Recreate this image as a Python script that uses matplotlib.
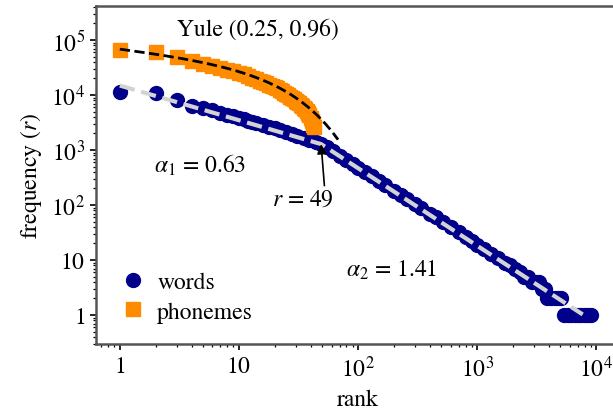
import numpy as np
import matplotlib
matplotlib.use("Agg")
import matplotlib.pyplot as plt
from matplotlib.ticker import FixedLocator, FixedFormatter, LogLocator, NullFormatter

plt.rcParams["font.family"] = "STIXGeneral"
plt.rcParams["mathtext.fontset"] = "stix"
plt.rcParams["font.size"] = 17

# word rank-frequency counts
word_ranks = [1, 2, 3, 4, 5, 6, 7, 8, 9, 10, 11, 12, 13, 14, 16, 18, 20, 22, 25,
              28, 31, 35, 39, 44, 49, 55, 62, 70, 80, 90, 100, 115, 130, 150,
              170, 200, 230, 260, 300, 340, 400, 450, 520, 600, 700, 800, 900,
              1000, 1150, 1300, 1500, 1700, 1900, 2100, 2300, 2500, 2700, 2900,
              3100, 3300, 3500, 3700, 3900, 4200, 4500, 4800, 5100, 5400, 5800,
              6200, 6600, 7000, 7500, 8000, 8500, 9100]
word_freqs = [11500, 10900, 8200, 6250, 5750, 5300, 4750, 4400, 4100, 3850, 3600,
              3400, 3250, 3100, 2850, 2650, 2500, 2350, 2150, 1980, 1830, 1680,
              1540, 1400, 1290, 1120, 940, 790, 650, 560, 480, 400, 330, 270, 228,
              180, 150, 127, 104, 87, 70, 60, 49, 40, 32, 26, 22, 19, 16, 13, 11,
              9, 8, 7, 6, 5, 5, 4, 4, 4, 3, 3, 2, 2, 2, 2, 2, 1, 1, 1, 1, 1, 1, 1,
              1, 1]

# phoneme rank-frequency counts
phon_ranks = list(range(1, 44))
phon_freqs = [66700, 61300, 48400, 42100, 36600, 34100, 31000, 29000, 27000,
              25500, 24000, 22300, 20500, 19200, 18000, 17000, 16200, 15400,
              14600, 13900, 13200, 12500, 11800, 11100, 10400, 9800, 9300, 8800,
              8300, 7900, 7500, 7100, 6700, 6200, 5900, 5500, 5100, 4700, 4300,
              3800, 3300, 2900, 2600]

# fitted models
break_rank = 49
break_freq = 1280
alpha_1 = 0.63
alpha_2 = 1.41
fit_max_rank = 7700
yule_a, yule_b = 0.25, 0.96
yule_scale = 71000
yule_max_rank = 68

tick_vals_x = [1, 10, 100, 1000, 10000]
tick_labels_x = ["$1$", "$10$", "$10^2$", "$10^3$", "$10^4$"]
tick_vals_y = [1, 10, 100, 1000, 10000, 100000]
tick_labels_y = ["$1$", "$10$", "$10^2$", "$10^3$", "$10^4$", "$10^5$"]

fig = plt.figure(figsize=(6.13, 4.14), dpi=100)
ax = fig.add_axes([96 / 613, 69 / 414, 524 / 613, 338 / 414])

ax.plot(word_ranks, word_freqs, "o", color="darkblue", markersize=10,
        label="words", zorder=2)

r1 = np.logspace(0, np.log10(break_rank), 50)
r2 = np.logspace(np.log10(break_rank), np.log10(fit_max_rank), 80)
r_fit = np.concatenate([r1, r2])
f_fit = np.concatenate([break_freq * (r1 / break_rank) ** -alpha_1,
                        break_freq * (r2 / break_rank) ** -alpha_2])
ax.plot(r_fit, f_fit, "--", color="lightgray", lw=3, zorder=3)

ax.plot(phon_ranks, phon_freqs, "s", color="darkorange", markersize=9.5,
        label="phonemes", zorder=4)
ry = np.linspace(1, yule_max_rank, 200)
ax.plot(ry, yule_scale * ry ** -yule_a * yule_b ** ry, "--", color="black",
        lw=2, zorder=5)

ax.set_xscale("log")
ax.set_yscale("log")
ax.set_xlim(10 ** -0.2, 10 ** 4.2)
ax.set_ylim(10 ** -0.527, 10 ** 5.618)

ax.xaxis.set_major_locator(FixedLocator(tick_vals_x))
ax.xaxis.set_major_formatter(FixedFormatter(tick_labels_x))
ax.yaxis.set_major_locator(FixedLocator(tick_vals_y))
ax.yaxis.set_major_formatter(FixedFormatter(tick_labels_y))
for axis in (ax.xaxis, ax.yaxis):
    axis.set_minor_locator(LogLocator(base=10, subs=np.arange(2, 10), numticks=20))
    axis.set_minor_formatter(NullFormatter())
ax.tick_params(which="major", direction="out", length=4, width=1.2, pad=4)
ax.tick_params(which="minor", direction="out", length=2.2, width=0.9)

for side in ("left", "top", "bottom"):
    ax.spines[side].set_color("#555555")
    ax.spines[side].set_linewidth(1.8)
ax.spines["right"].set_visible(False)

ax.set_xlabel("rank", labelpad=6)
ax.set_ylabel("frequency ($r$)", labelpad=5)

ax.text(14.4, 1.58e5, "Yule (0.25, 0.96)", ha="center", va="center")
ax.text(4.7, 540, r"$\alpha_1$ = 0.63", ha="center", va="center")
ax.text(190, 6.7, r"$\alpha_2$ = 1.41", ha="center", va="center")
ax.annotate("$r$ = 49", xy=(break_rank, break_freq), xytext=(34.5, 128),
            ha="center", va="center",
            arrowprops=dict(arrowstyle="-|>", color="black", lw=1.2,
                            shrinkA=0, shrinkB=0, mutation_scale=14,
                            relpos=(0.85, 1.0)))

ax.legend(loc="lower left", frameon=False, handlelength=1.3,
          handletextpad=0.4, borderaxespad=0.5, labelspacing=0.35)

fig.savefig("out.png", dpi=100)
